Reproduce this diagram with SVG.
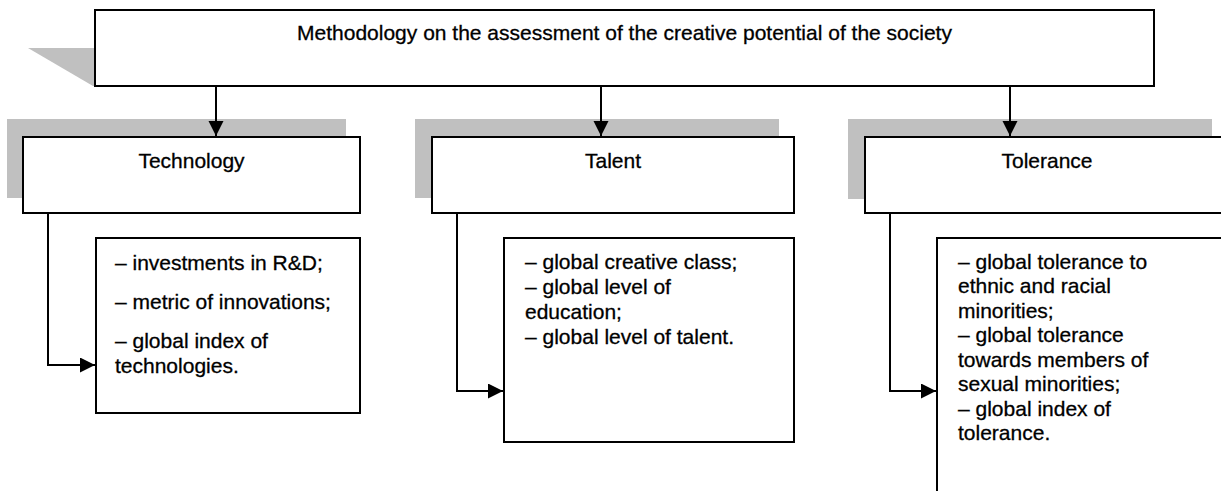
<svg xmlns="http://www.w3.org/2000/svg" width="1221" height="491" viewBox="0 0 1221 491">
<defs>
<style>
.shadow{fill:#c0c0c0;stroke:none}
.box{fill:#ffffff;stroke:#000000;stroke-width:2}
.t{font-family:"Liberation Sans",Arial,sans-serif;font-size:21px;fill:#000000;stroke:#000000;stroke-width:0.3}
.c{text-anchor:middle}
.con{fill:none;stroke:#000000;stroke-width:2}
</style>
<marker id="arr" markerUnits="userSpaceOnUse" markerWidth="16" markerHeight="16" refX="15" refY="7.5" orient="auto">
<path d="M0,0 L15,7.5 L0,15 Z" fill="#000000"/>
</marker>
</defs>
<rect width="1221" height="491" fill="#ffffff"/>

<g id="node-top">
<polygon class="shadow" points="28,48 95,48 95,86 93,86"/>
<rect class="box" x="95" y="10" width="1059" height="76"/>
<text class="t c" x="624.5" y="40">Methodology on the assessment of the creative potential of the society</text>
</g>

<g id="node-technology">
<rect class="shadow" x="7" y="119" width="339" height="79"/>
<rect class="box" x="23" y="137" width="337" height="76"/>
<text class="t c" x="191.5" y="168">Technology</text>
</g>

<g id="node-talent">
<rect class="shadow" x="415" y="119" width="364" height="79"/>
<rect class="box" x="432" y="137" width="362" height="76"/>
<text class="t c" x="613" y="168">Talent</text>
</g>

<g id="node-tolerance">
<rect class="shadow" x="848" y="119" width="364" height="80"/>
<rect class="box" x="865" y="137" width="364" height="76"/>
<text class="t c" x="1047" y="168">Tolerance</text>
</g>

<g id="node-technology-list">
<rect class="box" x="96" y="238" width="264" height="175"/>
<text class="t" x="115" y="270">– investments in R&amp;D;</text>
<text class="t" x="115" y="309">– metric of innovations;</text>
<text class="t" x="115" y="348">– global index of</text>
<text class="t" x="115" y="372.5">technologies.</text>
</g>

<g id="node-talent-list">
<rect class="box" x="504" y="238" width="290" height="204"/>
<text class="t" x="525" y="268.5">– global creative class;</text>
<text class="t" x="525" y="293.5">– global level of</text>
<text class="t" x="525" y="318.5">education;</text>
<text class="t" x="525" y="343.5">– global level of talent.</text>
</g>

<g id="node-tolerance-list">
<rect class="box" x="937" y="238" width="300" height="270"/>
<text class="t" x="958" y="268.5">– global tolerance to</text>
<text class="t" x="958" y="293">ethnic and racial</text>
<text class="t" x="958" y="317.5">minorities;</text>
<text class="t" x="958" y="342">– global tolerance</text>
<text class="t" x="958" y="366.5">towards members of</text>
<text class="t" x="958" y="391">sexual minorities;</text>
<text class="t" x="958" y="415.5">– global index of</text>
<text class="t" x="958" y="440">tolerance.</text>
</g>

<g id="connectors">
<line class="con" x1="216" y1="86" x2="216" y2="136" marker-end="url(#arr)"/>
<line class="con" x1="601" y1="86" x2="601" y2="136" marker-end="url(#arr)"/>
<line class="con" x1="1010" y1="86" x2="1010" y2="136" marker-end="url(#arr)"/>
<polyline class="con" points="48,213 48,365 95,365" marker-end="url(#arr)"/>
<polyline class="con" points="457,213 457,391 503,391" marker-end="url(#arr)"/>
<polyline class="con" points="890,213 890,391 936,391" marker-end="url(#arr)"/>
</g>
</svg>
